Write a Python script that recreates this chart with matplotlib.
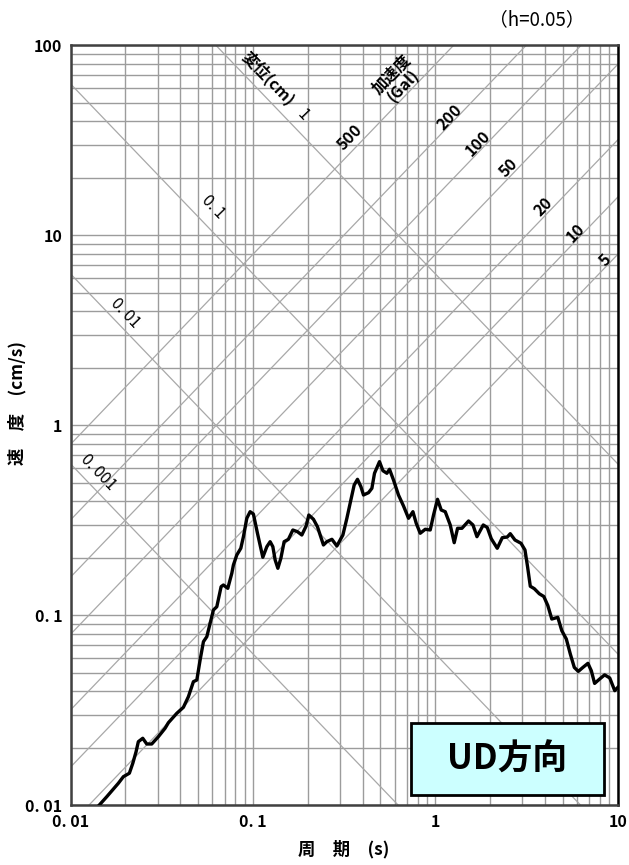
import numpy as np
import matplotlib
matplotlib.use("Agg")
import matplotlib.pyplot as plt
from matplotlib.patches import Rectangle

plt.rcParams['font.family'] = ['Noto Sans CJK JP', 'DejaVu Sans']

# response spectrum (period s, velocity cm/s)
period = [0.01439, 0.01580, 0.01829, 0.01949, 0.02102, 0.02195, 0.02288, 0.02354, 0.02489, 0.02618,
          0.02788, 0.03031, 0.03299, 0.03440, 0.03826, 0.04158, 0.04428, 0.04717, 0.04925, 0.05135,
          0.05354, 0.05588, 0.05826, 0.06074, 0.06339, 0.06692, 0.06889, 0.07282, 0.07660, 0.07816,
          0.08160, 0.08582, 0.08869, 0.09258, 0.09652, 0.1006, 0.1059, 0.1133, 0.1192, 0.1243,
          0.1286, 0.1324, 0.1370, 0.1423, 0.1483, 0.1565, 0.1655, 0.1754, 0.1854, 0.1958,
          0.2025, 0.2147, 0.2258, 0.2436, 0.2543, 0.2710, 0.2885, 0.3113, 0.3274, 0.3443,
          0.3590, 0.3743, 0.3908, 0.4038, 0.4302, 0.4490, 0.4640, 0.4942, 0.5160, 0.5426,
          0.5608, 0.5897, 0.6280, 0.6691, 0.7129, 0.7536, 0.7857, 0.8264, 0.8805, 0.9376,
          0.9775, 1.028, 1.077, 1.133, 1.207, 1.269, 1.324, 1.399, 1.521, 1.608,
          1.691, 1.831, 1.926, 2.026, 2.185, 2.328, 2.480, 2.575, 2.733, 2.949,
          3.101, 3.205, 3.316, 3.488, 3.716, 3.932, 4.136, 4.350, 4.693, 4.935,
          5.225, 5.495, 5.779, 6.079, 6.442, 6.863, 7.164, 7.468, 7.956, 8.476,
          9.040, 9.629, 10.0]
velocity = [0.01006, 0.01112, 0.01309, 0.01418, 0.01478, 0.01668, 0.01919, 0.02167, 0.02258, 0.02107,
            0.02107, 0.02302, 0.02549, 0.02727, 0.03057, 0.03287, 0.03737, 0.04483, 0.04576, 0.05832,
            0.07279, 0.07735, 0.09097, 0.1069, 0.1112, 0.1418, 0.1447, 0.1390, 0.1668, 0.1844,
            0.2082, 0.2258, 0.2599, 0.3248, 0.3518, 0.3421, 0.2709, 0.2025, 0.2302, 0.2446,
            0.2302, 0.1959, 0.1772, 0.2000, 0.2446, 0.2518, 0.2818, 0.2761, 0.2652, 0.2958,
            0.3380, 0.3209, 0.2933, 0.2350, 0.2446, 0.2518, 0.2322, 0.2652, 0.3248, 0.4054,
            0.4861, 0.5210, 0.4762, 0.4307, 0.4429, 0.4671, 0.5604, 0.6451, 0.5782, 0.5604,
            0.5883, 0.5166, 0.4307, 0.3771, 0.3248, 0.3518, 0.3057, 0.2709, 0.2843, 0.2818,
            0.3380, 0.4089, 0.3591, 0.3518, 0.2995, 0.2416, 0.2877, 0.2877, 0.3143, 0.2995,
            0.2599, 0.2995, 0.2905, 0.2536, 0.2258, 0.2567, 0.2589, 0.2695, 0.2496, 0.2399,
            0.2212, 0.1800, 0.1425, 0.1384, 0.1301, 0.1259, 0.1129, 0.0958, 0.0978, 0.0832,
            0.0752, 0.0627, 0.0533, 0.0508, 0.0533, 0.0560, 0.0512, 0.0439, 0.0463, 0.0487,
            0.0469, 0.0402, 0.0418]

disp_levels = [0.001, 0.01, 0.1, 1]          # cm
accel_levels = [5, 10, 20, 50, 100, 200, 500]  # Gal
disp_labels = ["0. 001", "0. 01", "0. 1", "1"]
accel_labels = ["5", "10", "20", "50", "100", "200", "500"]

xticks = [0.01, 0.1, 1, 10]
xticklabels = ["0. 01", "0. 1", "1", "10"]
yticks = [0.01, 0.1, 1, 10, 100]
yticklabels = ["0. 01", "0. 1", "1", "10", "100"]

fig = plt.figure(figsize=(6.29, 8.65), dpi=100)
ax = fig.add_axes([0.1121, 0.0688, 0.8700, 0.8786])
ax.set_xscale('log')
ax.set_yscale('log')
ax.set_xlim(0.01, 10)
ax.set_ylim(0.01, 100)

grid_c = '#9c9c9c'
ax.grid(True, which='both', color=grid_c, lw=1.0)
ax.set_axisbelow(True)

# tripartite lines
tt = np.array([0.001, 100.0])
for d in disp_levels:
    ax.plot(tt, 2 * np.pi * d / tt, color='#a8a8a8', lw=0.9, zorder=1)
for a in accel_levels:
    ax.plot(tt, a * tt / (2 * np.pi), color='#a8a8a8', lw=0.9, zorder=1)

ax.plot(period, velocity, color='black', lw=2.4, zorder=5)

ax.set_xticks(xticks)
ax.set_xticklabels(xticklabels, fontsize=11.5, fontweight='bold')
ax.set_yticks(yticks)
ax.set_yticklabels(yticklabels, fontsize=11.5, fontweight='bold')
ax.tick_params(which='both', length=0, pad=6)
for s in ax.spines.values():
    s.set_color('#404040')
    s.set_linewidth(1.8)
ax.spines['right'].set_color('black')

ax.set_xlabel("周　期　(s)", fontsize=12.5, fontweight='bold')
ax.xaxis.set_label_coords(0.5, -0.046)
ax.set_ylabel("速　度　(cm/s)", fontsize=12.5, fontweight='bold')
ax.yaxis.set_label_coords(-0.08, 0.53)

# diagonal labels
disp_pos = [(0.01416, 0.569), (0.0199, 3.909), (0.0605, 14.13), (0.1886, 43.07)]
for lab, (x, y) in zip(disp_labels, disp_pos):
    ax.text(x, y, lab, rotation=-46, ha='center', va='center', fontsize=11.5, zorder=6)
accel_pos = [(8.551, 7.43), (5.853, 10.31), (3.908, 14.13), (2.511, 22.66),
             (1.719, 30.69), (1.207, 42.05), (0.3413, 33.0)]
for lab, (x, y) in zip(accel_labels, accel_pos):
    ax.text(x, y, lab, rotation=46, ha='center', va='center', fontsize=11.5,
            fontweight='bold', zorder=6)
ax.text(0.1212, 67.45, "変位(cm)", rotation=-46, ha='center', va='center',
        fontsize=11.5, fontweight='bold', zorder=6)
ax.text(0.618, 65.8, "加速度\n(Gal)", rotation=46, ha='center', va='center',
        multialignment='center', fontsize=11.5, fontweight='bold', linespacing=1.0, zorder=6)

# direction box
ax.add_patch(Rectangle((0.622, 0.0138), 0.353, 0.0948, transform=ax.transAxes,
                       facecolor='#ccffff', edgecolor='black', lw=2, zorder=7))
ax.text(0.7985, 0.0612, "UD方向", transform=ax.transAxes, ha='center', va='center',
        fontsize=25, fontweight='bold', zorder=8)

fig.text(0.853, 0.977, "（h=0.05）", ha='center', va='center', fontsize=13.5)

fig.savefig("out.png", dpi=100)
